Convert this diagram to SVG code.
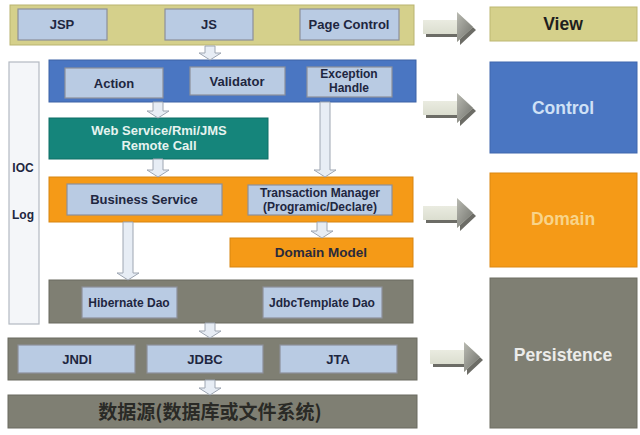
<svg xmlns="http://www.w3.org/2000/svg" width="640" height="435" viewBox="0 0 640 435">
<defs>
<linearGradient id="faceG" x1="0" y1="0" x2="0" y2="1">
<stop offset="0" stop-color="#f2f3ea"/><stop offset="1" stop-color="#d3d6c6"/>
</linearGradient>
<linearGradient id="headG" x1="0" y1="0" x2="1" y2="1">
<stop offset="0" stop-color="#b9bab2"/><stop offset="1" stop-color="#6f706a"/>
</linearGradient>
<g id="bigArrow">
<path d="M3,11 L37,11 L37,3 L53,18 L37,33 L37,25 L3,25 Z" fill="#6c6c66"/>
<path d="M0,8 L34,8 L34,0 L50,15 L34,30 L34,22 L0,22 Z" fill="url(#faceG)"/>
<path d="M34,0 L50,15 L34,30 Z" fill="url(#headG)"/>
</g>
</defs>
<style>
.lbl{font-family:"Liberation Sans",Arial,sans-serif;font-weight:bold;text-anchor:middle;fill:#1e2640}
.f13{font-size:13px}.f12{font-size:12px}
.inner{fill:#b9cbe3;stroke:#8d9099;stroke-width:1.2}
.darr{fill:#e7edf5;stroke:#9ea6b2;stroke-width:1}
.big{font-family:"Liberation Sans",Arial,sans-serif;font-weight:bold;font-size:17.5px;text-anchor:middle}
</style>
<rect width="640" height="435" fill="#ffffff"/>

<g id="side-column">
<rect x="9" y="62" width="30" height="262" fill="#f4f6f9" stroke="#b3b9c2" stroke-width="1.2"/>
<text class="lbl f12" x="23" y="172">IOC</text>
<text class="lbl f12" x="23" y="219">Log</text>
</g>

<g id="view-layer">
<rect x="10" y="5" width="404" height="40" fill="#d5d08b" stroke="#b9b470" stroke-width="1"/>
<rect class="inner" x="18" y="9" width="89" height="31"/>
<text class="lbl f13" x="62" y="29">JSP</text>
<rect class="inner" x="165" y="9" width="88" height="31"/>
<text class="lbl f13" x="209" y="29">JS</text>
<rect class="inner" x="300" y="9" width="99" height="31"/>
<text class="lbl f13" x="349" y="29">Page Control</text>
</g>

<g id="control-layer">
<rect x="49" y="60" width="367" height="42" fill="#4a76c2" stroke="#3d63a6" stroke-width="1"/>
<rect class="inner" x="65" y="68" width="98" height="30"/>
<text class="lbl f13" x="114" y="88">Action</text>
<rect class="inner" x="190" y="67" width="95" height="28"/>
<text class="lbl f13" x="237" y="86">Validator</text>
<rect class="inner" x="307" y="67" width="85" height="30"/>
<text class="lbl f12" x="349" y="78">Exception</text>
<text class="lbl f12" x="349" y="92">Handle</text>
</g>

<g id="remote-call">
<rect x="49" y="118" width="219" height="41" fill="#15857b" stroke="#0f6e66" stroke-width="1"/>
<text class="lbl f13" x="159" y="135" style="fill:#e6f3ef">Web Service/Rmi/JMS</text>
<text class="lbl f13" x="159" y="150" style="fill:#e6f3ef">Remote Call</text>
</g>

<g id="domain-layer">
<rect x="49" y="177" width="364" height="45" fill="#f59a17" stroke="#d88510" stroke-width="1"/>
<rect class="inner" x="67" y="184" width="155" height="31"/>
<text class="lbl f13" x="144" y="204">Business Service</text>
<rect class="inner" x="248" y="185" width="144" height="30"/>
<text class="lbl f12" x="320" y="197">Transaction Manager</text>
<text class="lbl f12" x="320" y="211">(Programic/Declare)</text>
</g>

<g id="domain-model">
<rect x="230" y="238" width="183" height="29" fill="#f59a17" stroke="#d88510" stroke-width="1"/>
<text class="lbl" x="321" y="257" style="font-size:13.5px;fill:#2a2a3c">Domain Model</text>
</g>

<g id="dao-layer">
<rect x="49" y="280" width="364" height="43" fill="#7f7f73" stroke="#6b6b60" stroke-width="1"/>
<rect class="inner" x="82" y="287" width="95" height="31"/>
<text class="lbl f12" x="129" y="307">Hibernate Dao</text>
<rect class="inner" x="263" y="287" width="119" height="31"/>
<text class="lbl f12" x="322" y="307">JdbcTemplate Dao</text>
</g>

<g id="jee-layer">
<rect x="8" y="338" width="409" height="42" fill="#7f7f73" stroke="#6b6b60" stroke-width="1"/>
<rect class="inner" x="18" y="345" width="117" height="28"/>
<text class="lbl f13" x="77" y="364">JNDI</text>
<rect class="inner" x="147" y="345" width="116" height="28"/>
<text class="lbl f13" x="205" y="364">JDBC</text>
<rect class="inner" x="280" y="345" width="117" height="28"/>
<text class="lbl f13" x="338" y="364">JTA</text>
</g>

<g id="datasource">
<rect x="8" y="395" width="409" height="33" fill="#7f7f73" stroke="#6b6b60" stroke-width="1"/>
<text x="210" y="419" text-anchor="middle" style="font-family:'Noto Sans CJK SC',sans-serif;font-weight:bold;font-size:19px;fill:#2a2a26">数据源(数据库或文件系统)</text>
</g>

<g id="view">
<rect x="490" y="7" width="147" height="34" fill="#d5d08b" stroke="#bdb872" stroke-width="1"/>
<text class="big" x="563" y="30" style="fill:#1e1e1e">View</text>
</g>
<g id="control">
<rect x="490" y="62" width="147" height="91" fill="#4a76c2" stroke="#3f67ad" stroke-width="1"/>
<text class="big" x="563" y="114" style="fill:#cfe1f6">Control</text>
</g>
<g id="domain">
<rect x="490" y="173" width="147" height="94" fill="#f59a17" stroke="#dc8812" stroke-width="1"/>
<text class="big" x="563" y="225" style="fill:#f8d48a">Domain</text>
</g>
<g id="persistence">
<rect x="490" y="278" width="147" height="150" fill="#7f7f73" stroke="#6e6e63" stroke-width="1"/>
<text class="big" x="563" y="361" style="fill:#ececea">Persistence</text>
</g>

<g id="connectors">
<path class="darr" d="M205,46 L215,46 L215,53 L221,53 L210,60 L199,53 L205,53 Z"/>
<path class="darr" d="M153,102 L163,102 L163,111 L169,111 L158,118 L147,111 L153,111 Z"/>
<path class="darr" d="M153,159 L163,159 L163,170 L169,170 L158,177 L147,170 L153,170 Z"/>
<path class="darr" d="M320,102 L330,102 L330,170 L336,170 L325,177 L314,170 L320,170 Z"/>
<path class="darr" d="M317,222 L327,222 L327,231 L333,231 L322,238 L311,231 L317,231 Z"/>
<path class="darr" d="M123,222 L133,222 L133,273 L139,273 L128,280 L117,273 L123,273 Z"/>
<path class="darr" d="M205,323 L215,323 L215,331 L221,331 L210,338 L199,331 L205,331 Z"/>
<path class="darr" d="M205,380 L215,380 L215,388 L221,388 L210,395 L199,388 L205,388 Z"/>
<use href="#bigArrow" x="423" y="12"/>
<use href="#bigArrow" x="423" y="93"/>
<use href="#bigArrow" x="423" y="198"/>
<use href="#bigArrow" x="430" y="342"/>
</g>
</svg>
